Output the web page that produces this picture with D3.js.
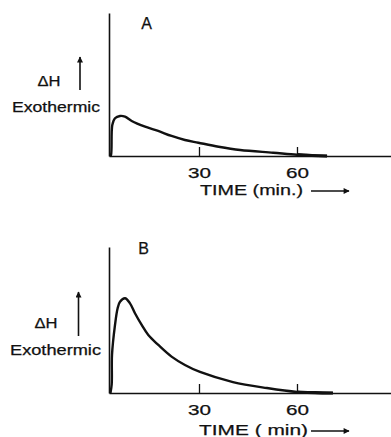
<!DOCTYPE html>
<html>
<head>
<meta charset="utf-8">
<script src="https://cdn.jsdelivr.net/npm/d3@7"></script>
<style>
  body { margin: 0; background: #fff; }
  svg text { font-family: "Liberation Sans", Arial, sans-serif; fill: #111; stroke: #111; stroke-width: 0.25; }
</style>
</head>
<body>
<div id="chart"></div>
<script>
// time (min) and heat flow (arbitrary units, 0-100)
const timeA = [2.8, 3.06, 3.46, 4.29, 5.82, 7.35, 9.4, 13.5, 17.5, 21.6, 25.7, 29.8, 36.0, 42.6, 52.7, 60.0, 64.6, 69.2];
const heatA = [0, 0.7, 21.7, 26.4, 28.0, 27.5, 24.5, 20.5, 17.5, 14.0, 11.2, 9.3, 6.5, 4.2, 2.3, 0.9, 0.35, 0];

const timeB = [2.9, 3.28, 3.37, 4.29, 5.11, 5.82, 7.35, 8.88, 10.4, 12.46, 14.48, 17.54, 21.6, 25.7, 30.3, 40.4, 50.8, 60.0, 65.5, 71.0];
const heatB = [0, 6, 26, 46.6, 58.2, 62.5, 64.9, 61.4, 54.6, 46.6, 39.7, 32.9, 24.9, 19.2, 14.4, 7.5, 3.4, 0.7, 0.2, 0];

const xTicks = [30, 60];
const panelLabels = ['A', 'B'];
const xTitles = ['TIME (min.)', 'TIME ( min)'];
const yTitle = 'ΔH';
const yNote = 'Exothermic';

const width = 391, height = 437;

const svg = d3.select('#chart').append('svg')
    .attr('width', width)
    .attr('height', height);

const defs = svg.append('defs');
defs.append('marker')
    .attr('id', 'head')
    .attr('viewBox', '0 -5 10 10')
    .attr('refX', 9)
    .attr('refY', 0)
    .attr('markerWidth', 8)
    .attr('markerHeight', 6)
    .attr('markerUnits', 'userSpaceOnUse')
    .attr('orient', 'auto')
    .append('path')
    .attr('d', 'M0,-5L10,0L0,5Z')
    .attr('fill', '#111');

function drawPanel(cfg) {
    const g = svg.append('g');

    // time axis origin sits a little right of t = 0 on the original plot
    const x = d3.scaleLinear().domain([2.45, 88.78]).range([109, 391]);
    const y = d3.scaleLinear().domain([0, 100]).range([cfg.base, cfg.top]);

    const xAxis = g.append('g')
        .attr('transform', `translate(0,${cfg.base})`)
        .call(d3.axisBottom(x).tickValues(xTicks).tickSizeInner(-9).tickSizeOuter(0).tickPadding(11));
    xAxis.select('.domain').attr('stroke', '#111').attr('stroke-width', 1.6);
    xAxis.selectAll('.tick line').attr('stroke', '#111').attr('stroke-width', 1.3);
    xAxis.selectAll('.tick text')
        .attr('font-size', 15)
        .attr('fill', '#111')
        .attr('textLength', 23)
        .attr('lengthAdjust', 'spacingAndGlyphs');

    const yAxis = g.append('g')
        .attr('transform', `translate(109,0)`)
        .call(d3.axisLeft(y).tickValues([]).tickSizeOuter(0));
    yAxis.select('.domain').attr('stroke', '#111').attr('stroke-width', 1.6);

    const pts = cfg.time.map((t, i) => [t, cfg.heat[i]]);
    const line = d3.line()
        .x(d => x(d[0]))
        .y(d => y(d[1]))
        .curve(d3.curveCatmullRom.alpha(0.5));

    g.append('path')
        .datum(pts)
        .attr('d', line)
        .attr('fill', 'none')
        .attr('stroke', '#111')
        .attr('stroke-width', 2.4)
        .attr('stroke-linejoin', 'round');

    // thicker pen trace near the end of the run
    g.append('path')
        .datum(pts.filter(d => d[0] >= 60))
        .attr('d', line)
        .attr('fill', 'none')
        .attr('stroke', '#111')
        .attr('stroke-width', 3.2);

    g.append('text')
        .attr('x', cfg.labelX)
        .attr('y', cfg.labelY)
        .attr('text-anchor', 'middle')
        .attr('font-size', 16)
        .text(cfg.label);

    g.append('text')
        .attr('x', cfg.dhX)
        .attr('y', cfg.dhY)
        .attr('font-size', 14)
        .attr('textLength', 23)
        .attr('lengthAdjust', 'spacingAndGlyphs')
        .text(yTitle);

    g.append('line')
        .attr('x1', cfg.arrowX).attr('x2', cfg.arrowX)
        .attr('y1', cfg.arrowY1).attr('y2', cfg.arrowY2)
        .attr('stroke', '#111')
        .attr('stroke-width', 1.6)
        .attr('marker-end', 'url(#head)');

    g.append('text')
        .attr('x', cfg.exoX)
        .attr('y', cfg.exoY)
        .attr('font-size', 14)
        .attr('textLength', cfg.exoW)
        .attr('lengthAdjust', 'spacingAndGlyphs')
        .text(yNote);

    g.append('text')
        .attr('x', cfg.titleX)
        .attr('y', cfg.titleY)
        .attr('font-size', 15)
        .attr('textLength', cfg.titleW)
        .attr('lengthAdjust', 'spacingAndGlyphs')
        .text(cfg.xTitle);

    g.append('line')
        .attr('x1', 311).attr('x2', 349)
        .attr('y1', cfg.titleArrowY).attr('y2', cfg.titleArrowY)
        .attr('stroke', '#111')
        .attr('stroke-width', 1.5)
        .attr('marker-end', 'url(#head)');
}

drawPanel({
    time: timeA, heat: heatA, base: 156, top: 13,
    label: panelLabels[0], labelX: 146.5, labelY: 29,
    dhX: 37.5, dhY: 86, arrowX: 80, arrowY1: 90, arrowY2: 57,
    exoX: 12, exoY: 112, exoW: 88,
    xTitle: xTitles[0], titleX: 200, titleY: 195, titleW: 103, titleArrowY: 191
});

drawPanel({
    time: timeB, heat: heatB, base: 393, top: 247,
    label: panelLabels[1], labelX: 143.5, labelY: 254,
    dhX: 34.5, dhY: 327.5, arrowX: 78.5, arrowY1: 336, arrowY2: 292,
    exoX: 10, exoY: 355, exoW: 91,
    xTitle: xTitles[1], titleX: 199, titleY: 435, titleW: 109, titleArrowY: 431
});
</script>
</body>
</html>
